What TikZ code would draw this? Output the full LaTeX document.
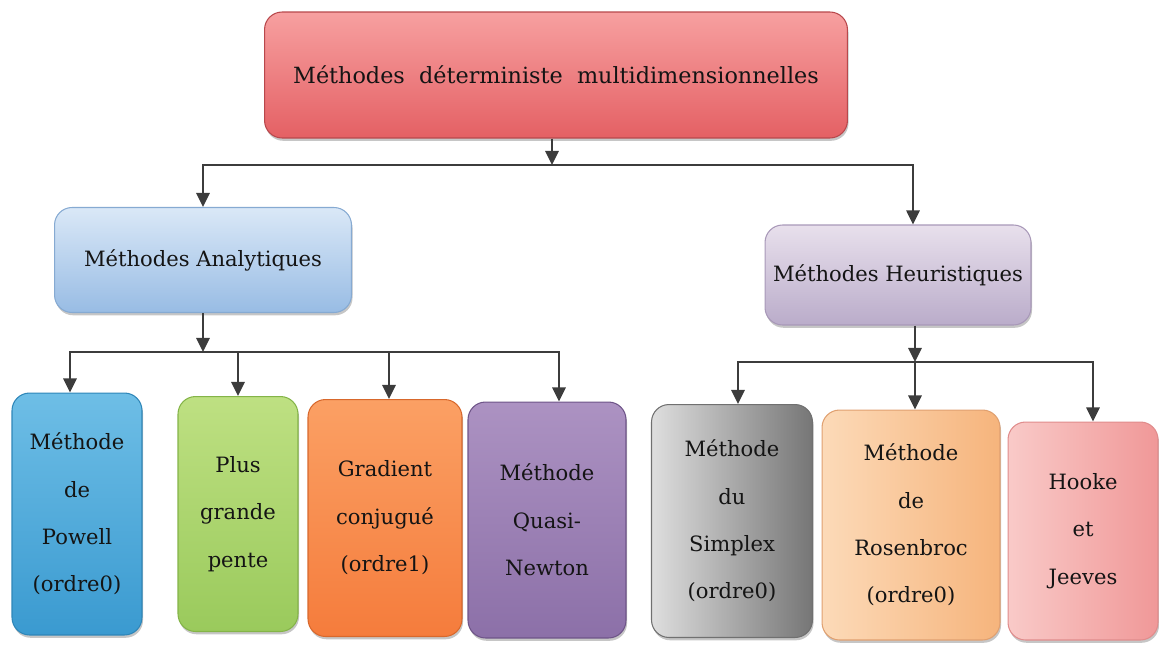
\documentclass[tikz,border=0pt]{standalone}
\usepackage{fontspec}
\setmainfont{DejaVu Serif}
\usetikzlibrary{arrows.meta,shadows}
\definecolor{linegray}{HTML}{3C3C3C}
\definecolor{edRed}{HTML}{B8484C}
\definecolor{edBlue}{HTML}{86AAD2}
\definecolor{edLav}{HTML}{A898B8}
\definecolor{edCyan}{HTML}{2E86B8}
\definecolor{edGreen}{HTML}{84B448}
\definecolor{edOrange}{HTML}{D8682C}
\definecolor{edPurple}{HTML}{6E5488}
\definecolor{edGray}{HTML}{707070}
\definecolor{edPeach}{HTML}{E0A070}
\definecolor{edPink}{HTML}{E08C8C}
\tikzset{
  box/.style={rounded corners=0.35cm, draw=#1, line width=0.6pt, align=center, text=black!92,
    drop shadow={shadow xshift=0.6pt, shadow yshift=-1.6pt, opacity=0.45}},
  headbox/.style={box=#1, font=\fontsize{12}{16}\selectfont, inner sep=2pt},
  leafbox/.style={box=#1, font=\fontsize{12}{27}\selectfont},
  arr/.style={draw=linegray, line width=1.3pt, -{Triangle[length=8pt,width=7.5pt]}},
}
\begin{document}
\begin{tikzpicture}[x=0.02cm,y=-0.02cm]
\useasboundingbox (0,0) rectangle (1159,646);
% top
\node[headbox=edRed, top color={rgb,255:red,247;green,160;blue,160}, bottom color={rgb,255:red,228;green,96;blue,100},
  minimum width=11.66cm, minimum height=2.52cm, font=\fontsize{12.7}{16}\selectfont] (top) at (556,75)
  {Méthodes\ \ déterministe\ \ multidimensionnelles};
% level 2
\node[headbox=edBlue, top color={rgb,255:red,218;green,232;blue,247}, bottom color={rgb,255:red,152;green,188;blue,228},
  minimum width=5.94cm, minimum height=2.1cm] (ana) at (203,260) {Méthodes Analytiques};
\node[headbox=edLav, top color={rgb,255:red,232;green,224;blue,236}, bottom color={rgb,255:red,186;green,172;blue,202},
  minimum width=5.32cm, minimum height=2.0cm] (heu) at (898,275) {Méthodes Heuristiques};
% leaves
\node[leafbox=edCyan, top color={rgb,255:red,110;green,190;blue,230}, bottom color={rgb,255:red,58;green,154;blue,208},
  minimum width=2.6cm, minimum height=4.84cm] (pow) at (77,514) {Méthode\\de\\Powell\\(ordre0)};
\node[leafbox=edGreen, top color={rgb,255:red,190;green,224;blue,130}, bottom color={rgb,255:red,154;green,202;blue,92},
  minimum width=2.4cm, minimum height=4.7cm] (plus) at (238,514) {Plus\\grande\\pente};
\node[leafbox=edOrange, top color={rgb,255:red,251;green,160;blue,100}, bottom color={rgb,255:red,245;green,124;blue,60},
  minimum width=3.08cm, minimum height=4.74cm] (grad) at (385,518) {Gradient\\conjugué\\(ordre1)};
\node[leafbox=edPurple, top color={rgb,255:red,172;green,146;blue,194}, bottom color={rgb,255:red,140;green,112;blue,168},
  minimum width=3.16cm, minimum height=4.72cm] (qn) at (547,520) {Méthode\\Quasi-\\Newton};
\node[leafbox=edGray, left color={rgb,255:red,222;green,222;blue,222}, middle color={rgb,255:red,180;green,180;blue,180}, right color={rgb,255:red,118;green,118;blue,118},
  minimum width=3.22cm, minimum height=4.66cm] (sim) at (732,521) {Méthode\\du\\Simplex\\(ordre0)};
\node[leafbox=edPeach, left color={rgb,255:red,252;green,218;blue,184}, right color={rgb,255:red,246;green,180;blue,124},
  minimum width=3.56cm, minimum height=4.6cm] (ros) at (911,525) {Méthode\\de\\Rosenbroc\\(ordre0)};
\node[leafbox=edPink, left color={rgb,255:red,249;green,202;blue,200}, right color={rgb,255:red,240;green,152;blue,152},
  minimum width=3.0cm, minimum height=4.36cm] (hj) at (1083,531) {Hooke\\et\\Jeeves};
% connectors level 1
\coordinate (j0) at (552,165);
\draw[arr] (top.south -| j0) -- (j0);
\draw[arr] (j0) -| (ana.north);
\draw[arr] (j0) -| ([xshift=0.3cm]heu.north);
% analytic branch
\coordinate (j1) at (203,352);
\draw[arr] (ana.south -| j1) -- (j1);
\draw[arr] (j1) -| ([xshift=-0.14cm]pow.north);
\draw[arr] (j1) -| (plus.north);
\draw[arr] (j1) -| ([xshift=0.08cm]grad.north);
\draw[arr] (j1) -| ([xshift=0.24cm]qn.north);
% heuristic branch
\coordinate (j2) at (915,362);
\draw[arr] (heu.south -| j2) -- (j2);
\draw[arr] (j2) -| ([xshift=0.12cm]sim.north);
\draw[arr] (j2) -- (ros.north -| j2);
\draw[arr] (j2) -| ([xshift=0.2cm]hj.north);
\end{tikzpicture}
\end{document}
